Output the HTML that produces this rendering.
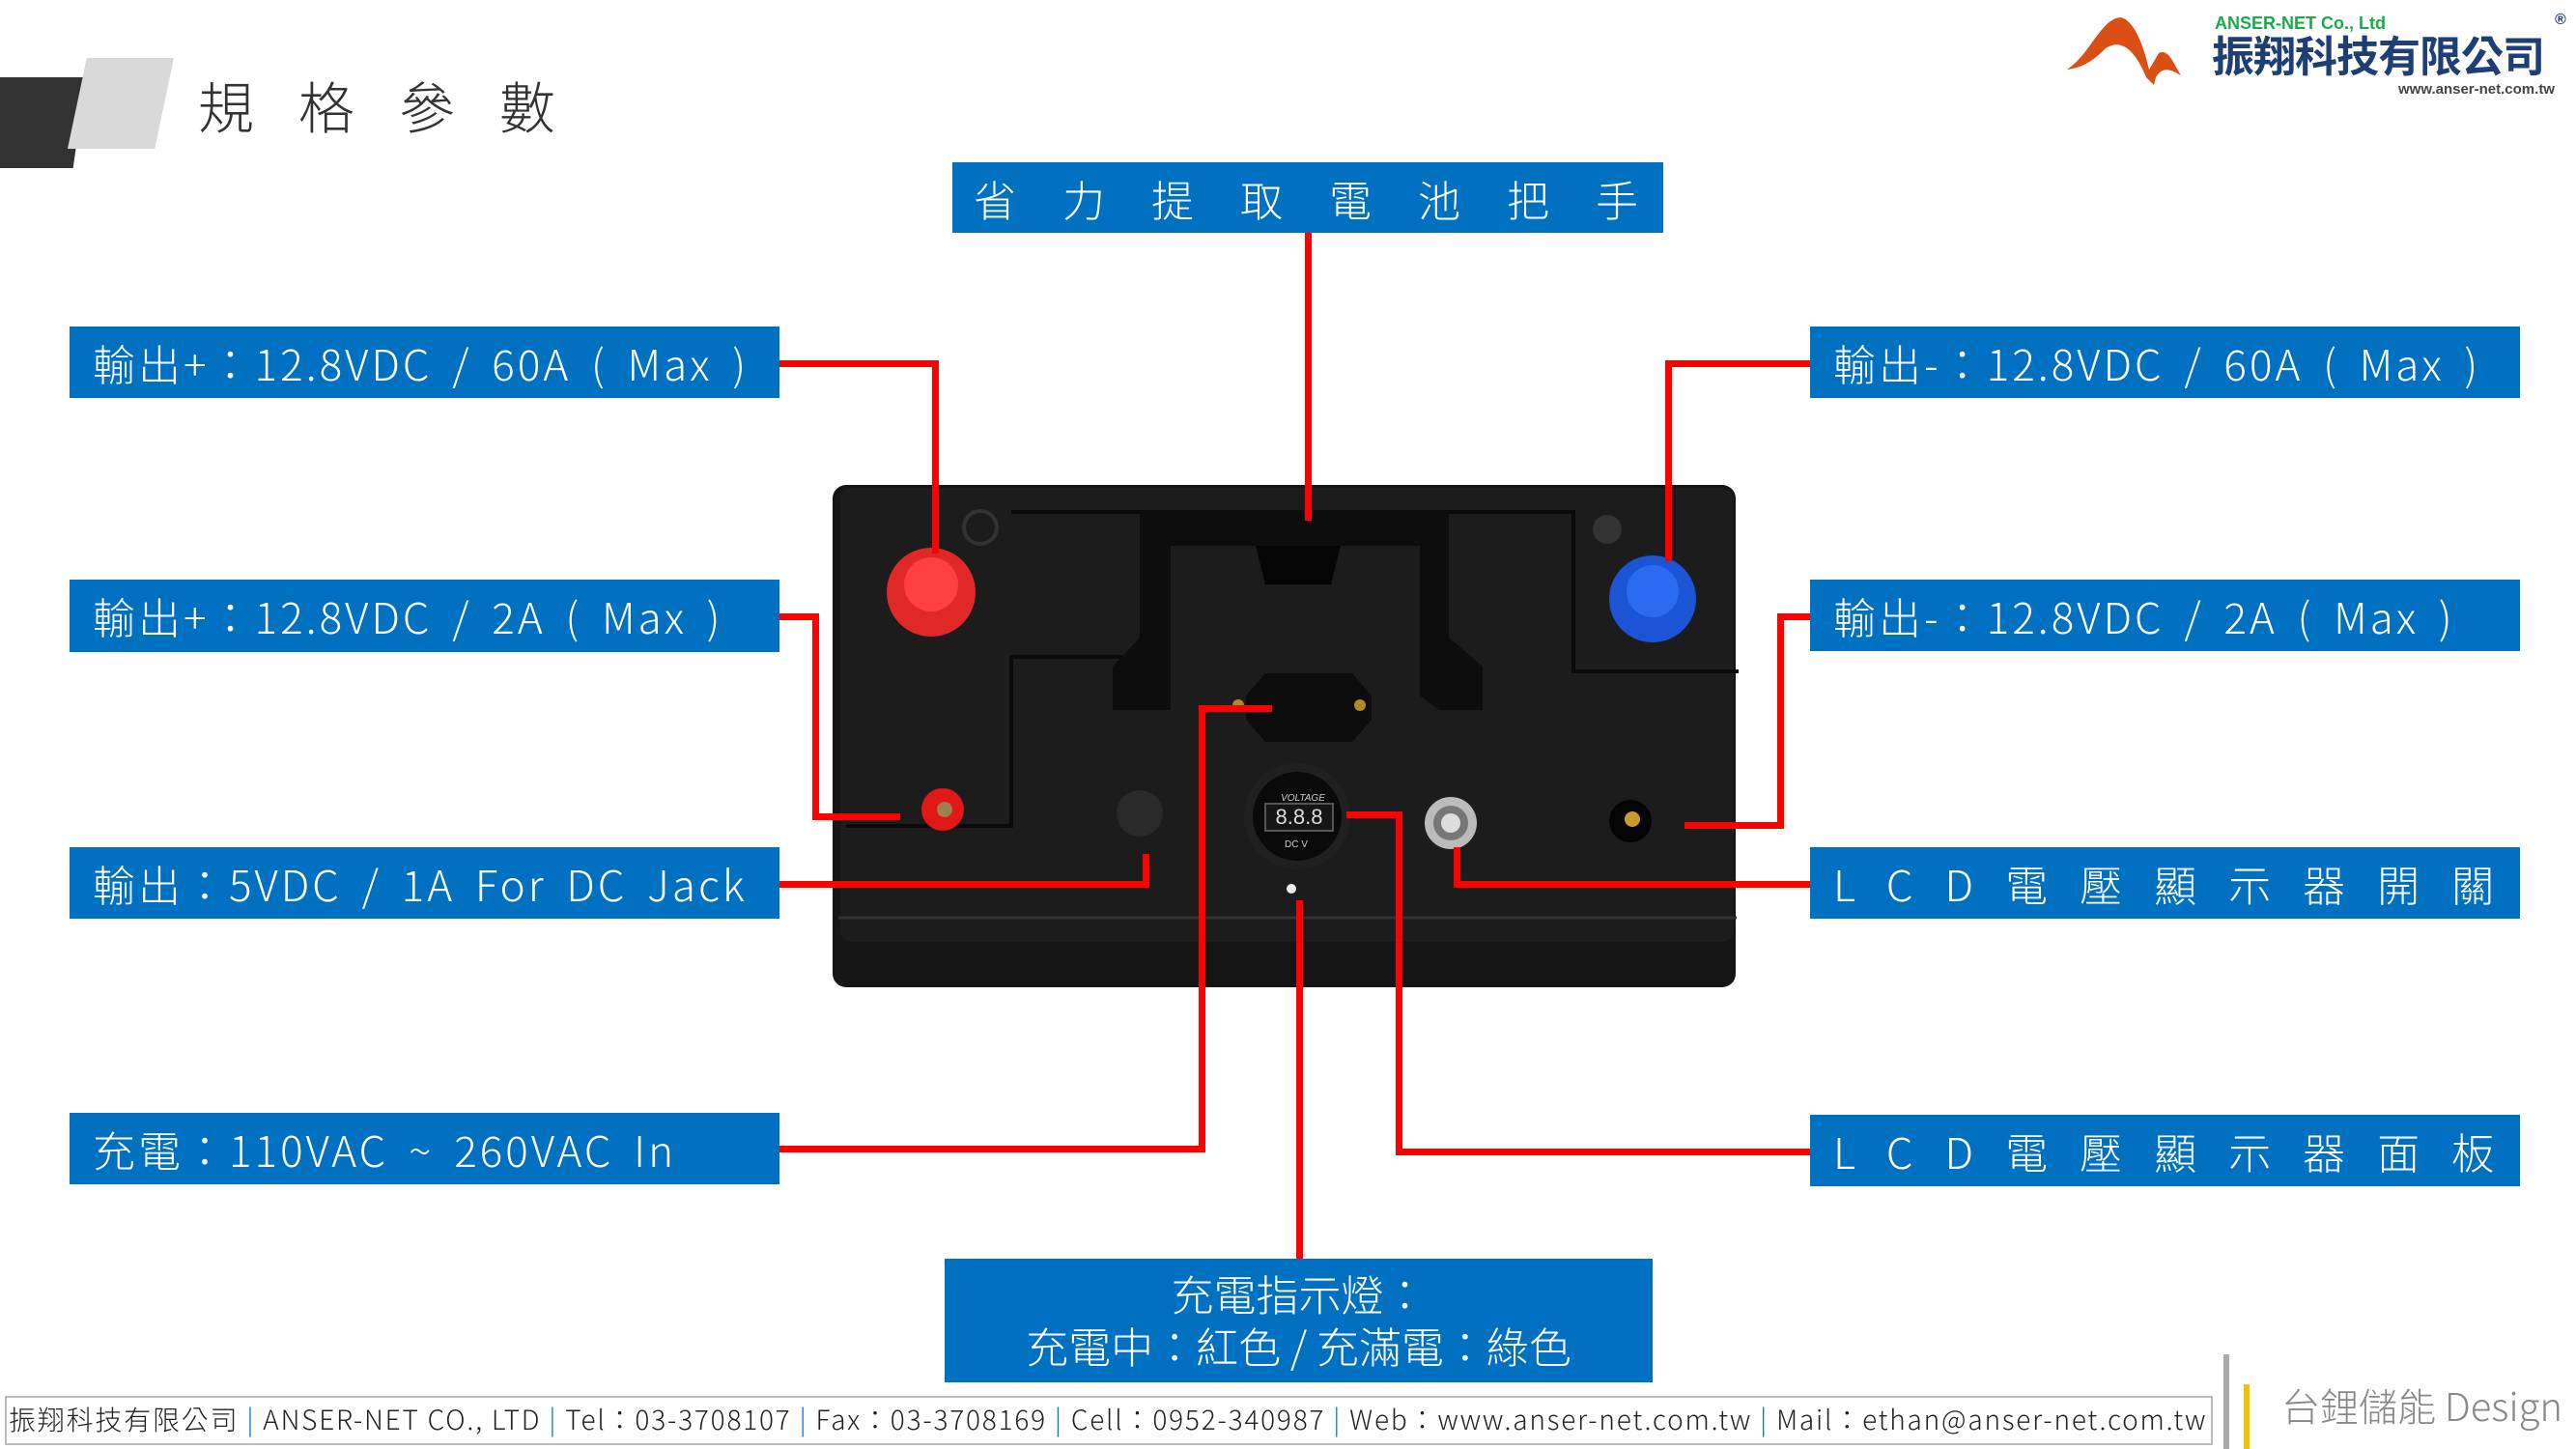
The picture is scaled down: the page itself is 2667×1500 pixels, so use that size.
<!DOCTYPE html>
<html><head><meta charset="utf-8"><style>
body{margin:0;width:2667px;height:1500px;background:#fff;position:relative;overflow:hidden;font-family:"Liberation Sans","Noto Sans CJK TC",sans-serif}
.b{position:absolute;background:#0070c0;color:#fff;font-size:44px;line-height:74px;white-space:nowrap;box-sizing:border-box;padding-left:24px;font-family:"Noto Sans CJK TC","Liberation Sans",sans-serif;font-weight:300}
.t{letter-spacing:3px;word-spacing:8px}
.l{position:absolute;background:#f00}
</style></head><body>
<div style="position:absolute;left:0;top:80px;width:89px;height:94px;background:#333;clip-path:polygon(0 0,100% 0,85% 100%,0 100%)"></div>
<div style="position:absolute;left:70px;top:60px;width:110px;height:94px;background:#d9d9d9;clip-path:polygon(18% 0,100% 0,82% 100%,0 100%)"></div>
<div style="position:absolute;left:205px;top:66px;font-size:58px;color:#333;letter-spacing:46px;font-family:'Noto Sans CJK TC',sans-serif;font-weight:300">規格參數</div>

<!-- logo -->
<svg style="position:absolute;left:2140px;top:10px" width="120" height="80" viewBox="0 0 120 80"><path d="M0 62 C25 45 35 10 55 8 C70 10 80 40 85 62 L95 45 C105 40 110 55 118 68 C105 60 98 60 92 70 L90 78 L82 70 C70 40 55 30 40 40 C25 55 15 60 0 62Z" fill="#d94f14"/></svg>
<div style="position:absolute;left:2293px;top:14px;font-size:18px;color:#1aab4a;font-weight:bold">ANSER-NET Co., Ltd</div>
<div style="position:absolute;left:2645px;top:12px;font-size:16px;color:#1e3a6e;font-weight:bold">®</div>
<div style="position:absolute;left:2290px;top:30px;font-size:44px;line-height:50px;color:#1e3f73;font-weight:bold;font-family:'Noto Sans CJK TC',sans-serif;letter-spacing:-1px">振翔科技有限公司</div>
<div style="position:absolute;left:2483px;top:84px;font-size:15px;color:#444;font-weight:bold">www.anser-net.com.tw</div>

<!-- battery -->
<svg style="position:absolute;left:0;top:0" width="2667" height="1500">
<rect x="862" y="502" width="935" height="520" rx="14" fill="#151515"/>
<rect x="870" y="505" width="925" height="470" rx="12" fill="#1c1c1c"/>
<line x1="868" y1="950" x2="1798" y2="950" stroke="#333" stroke-width="3"/>
<path d="M1047 530 L1183 530 L1183 680 L1047 680 L1047 855 L876 855" fill="none" stroke="#0a0a0a" stroke-width="4"/>
<path d="M1495 530 L1629 530 L1629 695 L1800 695" fill="none" stroke="#0a0a0a" stroke-width="4"/>
<path d="M1148 528 L1500 528 L1500 660 L1535 690 L1535 735 L1490 735 L1470 720 L1470 565 L1212 565 L1212 735 L1152 735 L1152 690 L1180 660 L1180 528Z" fill="#0d0d0d"/>
<path d="M1300 565 L1388 565 L1378 605 L1310 605Z" fill="#050505"/>
<circle cx="1015" cy="546" r="17" fill="none" stroke="#333" stroke-width="4"/>
<circle cx="1664" cy="548" r="15" fill="#333"/>
<circle cx="964" cy="613" r="46" fill="#e02828"/><circle cx="964" cy="605" r="28" fill="#ff4040"/>
<circle cx="1711" cy="620" r="45" fill="#1b55d6"/><circle cx="1711" cy="612" r="27" fill="#2c6af0"/>
<path d="M1290 720 L1310 697 L1400 697 L1420 720 L1420 745 L1400 768 L1310 768 L1290 745Z" fill="#0c0c0c"/>
<circle cx="1282" cy="730" r="6" fill="#b08a2a"/><circle cx="1408" cy="730" r="6" fill="#b08a2a"/>
<circle cx="1343" cy="845" r="55" fill="#202020"/><circle cx="1343" cy="845" r="46" fill="#0a0a0a"/>
<rect x="1310" y="832" width="70" height="28" fill="#151515" stroke="#555" stroke-width="2"/>
<text x="1345" y="853" font-size="22" fill="#ddd" text-anchor="middle" font-family="Liberation Sans">8.8.8</text>
<text x="1349" y="829" font-size="10" fill="#ccc" text-anchor="middle" font-family="Liberation Sans" font-style="italic">VOLTAGE</text>
<text x="1330" y="877" font-size="10" fill="#ccc" font-family="Liberation Sans">DC  V</text>
<circle cx="976" cy="838" r="22" fill="#e01818"/><circle cx="978" cy="838" r="8" fill="#a08050"/>
<circle cx="1180" cy="842" r="24" fill="#2a2a2a"/>
<circle cx="1502" cy="852" r="27" fill="#bbb"/><circle cx="1502" cy="852" r="18" fill="#777"/><circle cx="1502" cy="852" r="10" fill="#ddd"/>
<circle cx="1688" cy="850" r="22" fill="#050505"/><circle cx="1690" cy="848" r="8" fill="#c89a30"/>
<circle cx="1337" cy="920" r="5" fill="#eee"/>
</svg>

<!-- lines -->
<div class="l" style="left:804px;top:373px;width:168px;height:7px"></div>
<div class="l" style="left:965px;top:373px;width:7px;height:200px"></div>
<div class="l" style="left:800px;top:635px;width:48px;height:7px"></div>
<div class="l" style="left:841px;top:635px;width:7px;height:213px"></div>
<div class="l" style="left:841px;top:842px;width:91px;height:7px"></div>
<div class="l" style="left:804px;top:912px;width:386px;height:7px"></div>
<div class="l" style="left:1183px;top:884px;width:7px;height:35px"></div>
<div class="l" style="left:804px;top:1186px;width:444px;height:7px"></div>
<div class="l" style="left:1241px;top:730px;width:7px;height:463px"></div>
<div class="l" style="left:1241px;top:730px;width:76px;height:7px"></div>
<div class="l" style="left:1351px;top:241px;width:7px;height:298px"></div>
<div class="l" style="left:1342px;top:932px;width:7px;height:371px"></div>
<div class="l" style="left:1724px;top:373px;width:152px;height:7px"></div>
<div class="l" style="left:1724px;top:373px;width:7px;height:208px"></div>
<div class="l" style="left:1840px;top:635px;width:36px;height:7px"></div>
<div class="l" style="left:1840px;top:635px;width:7px;height:223px"></div>
<div class="l" style="left:1744px;top:851px;width:103px;height:7px"></div>
<div class="l" style="left:1505px;top:912px;width:371px;height:7px"></div>
<div class="l" style="left:1505px;top:877px;width:7px;height:42px"></div>
<div class="l" style="left:1445px;top:1189px;width:431px;height:7px"></div>
<div class="l" style="left:1445px;top:840px;width:7px;height:356px"></div>
<div class="l" style="left:1394px;top:840px;width:58px;height:7px"></div>

<!-- boxes -->
<div class="b" style="left:986px;top:168px;width:736px;height:73px;letter-spacing:48px;padding-left:22px">省力提取電池把手</div>
<div class="b t" style="left:72px;top:338px;width:735px;height:74px">輸出+：12.8VDC / 60A ( Max )</div>
<div class="b t" style="left:72px;top:600px;width:735px;height:75px">輸出+：12.8VDC / 2A ( Max )</div>
<div class="b t" style="left:72px;top:877px;width:735px;height:74px">輸出：5VDC / 1A For DC Jack</div>
<div class="b t" style="left:72px;top:1152px;width:735px;height:74px">充電：110VAC ~ 260VAC In</div>
<div class="b t" style="left:1874px;top:338px;width:735px;height:74px">輸出-：12.8VDC / 60A ( Max )</div>
<div class="b t" style="left:1874px;top:600px;width:735px;height:74px">輸出-：12.8VDC / 2A ( Max )</div>
<div class="b" style="left:1874px;top:877px;width:735px;height:74px;letter-spacing:33px">LCD電壓顯示器開關</div>
<div class="b" style="left:1874px;top:1154px;width:735px;height:74px;letter-spacing:33px">LCD電壓顯示器面板</div>
<div class="b" style="left:978px;top:1303px;width:733px;height:128px;text-align:center;padding:8px 0 0;line-height:54px">充電指示燈：<br>充電中：紅色 / 充滿電：綠色</div>

<!-- footer -->
<div style="position:absolute;left:5px;top:1445px;width:2286px;height:51px;box-sizing:border-box;border:2px solid #bbb;font-size:28px;line-height:45px;color:#222;white-space:nowrap;padding-left:2px;letter-spacing:1.8px;font-family:'Noto Sans CJK TC',sans-serif;font-weight:300">振翔科技有限公司 <span style="color:#0070c0">|</span> ANSER-NET CO., LTD <span style="color:#0070c0">|</span> Tel：03-3708107 <span style="color:#0070c0">|</span> Fax：03-3708169 <span style="color:#0070c0">|</span> Cell：0952-340987 <span style="color:#0070c0">|</span> Web：www.anser-net.com.tw <span style="color:#0070c0">|</span> Mail：ethan@anser-net.com.tw</div>
<div style="position:absolute;left:2302px;top:1402px;width:6px;height:98px;background:#aaa"></div>
<div style="position:absolute;left:2323px;top:1433px;width:6px;height:67px;background:#f5c000"></div>
<div style="position:absolute;left:2362px;top:1425px;font-size:40px;color:#888;font-family:'Noto Sans CJK TC',sans-serif;font-weight:300">台鋰儲能 Design</div>
</body></html>
